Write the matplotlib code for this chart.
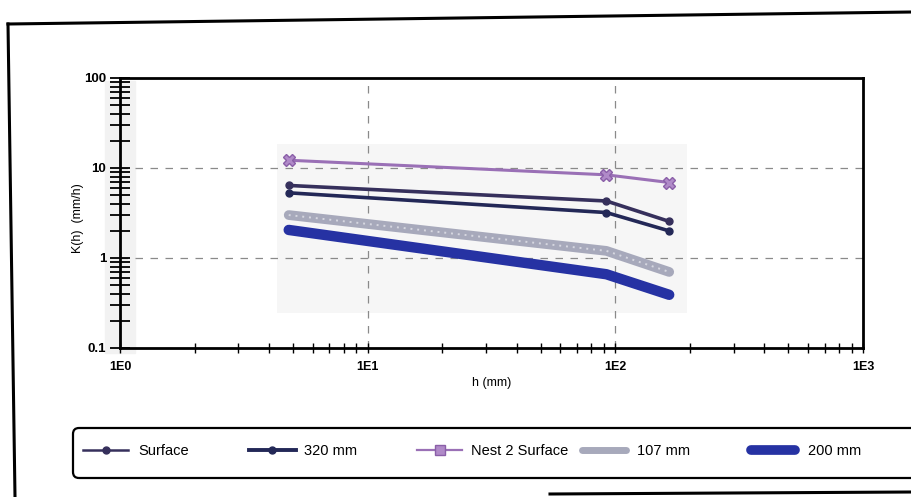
import matplotlib
matplotlib.use('Agg')
import matplotlib.pyplot as plt
import numpy as np
from matplotlib.lines import Line2D
from matplotlib.patches import FancyBboxPatch, Rectangle
from matplotlib.ticker import LogLocator, FixedLocator, NullFormatter

plt.rcParams['font.family'] = ['Liberation Sans', 'DejaVu Sans']

# ---- data ----
h_mm = [4.8, 92, 165]
k_surface = [6.4, 4.3, 2.55]
k_320 = [5.3, 3.2, 2.0]
k_nest2 = [12.2, 8.4, 6.9]
k_107 = [3.0, 1.2, 0.70]
k_200 = [2.05, 0.66, 0.39]

series_labels = ['Surface', '320 mm', 'Nest 2 Surface', '107 mm', '200 mm']
x_ticks = [1, 10, 100, 1000]
x_ticklabels = ['1E0', '1E1', '1E2', '1E3']
y_ticks = [0.1, 1, 10, 100]
y_ticklabels = ['0.1', '1', '10', '100']

W, H = 912, 497
fig = plt.figure(figsize=(W / 100, H / 100), dpi=100)
ax = fig.add_axes([120 / W, 1 - 348 / H, 743 / W, 270 / H])
ax.set_xscale('log')
ax.set_yscale('log')
ax.set_xlim(1, 1000)
ax.set_ylim(0.1, 100)
ax.set_facecolor('none')

# light strip behind the y axis (scan look)
fig.add_artist(Rectangle((105 / W, 1 - 353 / H), 30 / W, 272 / H,
                         transform=fig.transFigure, color='#f2f2f2', zorder=0))

# faint shaded panel behind the data
xs = np.array(h_mm)
allk = np.concatenate([k_surface, k_320, k_nest2, k_107, k_200])
x0, x1 = xs.min() / 1.12, xs.max() * 1.18
y0, y1 = allk.min() / 1.6, allk.max() * 1.5
ax.add_patch(Rectangle((x0, y0), x1 - x0, y1 - y0, color='#f6f6f6', zorder=0.5, lw=0))

# grid
ax.grid(True, which='major', linestyle=(0, (6, 6)), color='#8a8a8a', lw=0.9, zorder=1)

# series
ax.plot(h_mm, k_nest2, color='#9a70b6', lw=2.2, marker='X', ms=8, mec='#8a5fa8',
        mfc='#b08ac8', zorder=3)
ax.plot(h_mm, k_surface, color='#36305c', lw=2.6, marker='o', ms=5, zorder=3,
        solid_capstyle='round')
ax.plot(h_mm, k_320, color='#232857', lw=2.6, marker='o', ms=5, zorder=3,
        solid_capstyle='round')
ax.plot(h_mm, k_107, color='#a7a9bb', lw=7, solid_capstyle='round', zorder=3)
ax.plot(h_mm, k_107, color='#d6d7e0', lw=1.4, linestyle=(0, (1, 2.5)), zorder=3.1)
ax.plot(h_mm, k_200, color='#2632a3', lw=7.5, solid_capstyle='round', zorder=3)

# axes styling
for side in ['left', 'bottom', 'top', 'right']:
    ax.spines[side].set_linewidth(2)
    ax.spines[side].set_color('black')

ax.xaxis.set_major_locator(FixedLocator(x_ticks))
ax.set_xticklabels(x_ticklabels, fontsize=9, fontweight='bold')
ax.xaxis.set_minor_locator(LogLocator(base=10, subs=np.arange(2, 10)))
ax.xaxis.set_minor_formatter(NullFormatter())
ax.yaxis.set_major_locator(FixedLocator(y_ticks))
ax.set_yticklabels(y_ticklabels, fontsize=9.5, fontweight='bold')
ax.yaxis.set_minor_locator(LogLocator(base=10, subs=np.arange(2, 10)))
ax.yaxis.set_minor_formatter(NullFormatter())

ax.tick_params(axis='y', which='both', direction='inout', length=14, width=1.3, pad=3)
ax.tick_params(axis='x', which='both', direction='inout', length=7, width=1.0, pad=6)

ax.set_xlabel('h (mm)', fontsize=9, labelpad=3)
ax.set_ylabel('K(h)  (mm/h)', fontsize=9)
ax.yaxis.set_label_coords((84 - 120) / 743, 0.48)

# ---- legend (manual placement of each entry) ----
handles = [
    Line2D([], [], color='#36305c', lw=1.8, marker='o', ms=5),
    Line2D([], [], color='#232857', lw=2.8, marker='o', ms=5),
    Line2D([], [], color='#9a70b6', lw=1.6, marker='s', ms=7, mfc='#b08ac8', mec='#8a5fa8'),
    Line2D([], [], color='#a7a9bb', lw=5, solid_capstyle='round'),
    Line2D([], [], color='#2632a3', lw=7, solid_capstyle='round'),
]
entry_x = [83, 249, 417, 582, 751]
hlen = [3.1, 3.2, 3.1, 3.0, 3.0]
hpad = [0.7, 0.55, 0.6, 0.75, 0.9]
for hnd, lab, ex, hl, hp in zip(handles, series_labels, entry_x, hlen, hpad):
    fig.legend(handles=[hnd], labels=[lab], loc='center left',
               bbox_to_anchor=(ex / W, 1 - 451 / H), frameon=False,
               borderpad=0, borderaxespad=0, handlelength=hl, handletextpad=hp,
               fontsize=10.5)

# legend frame (rounded, running off the right edge)
fig.add_artist(FancyBboxPatch((0.73, (H - 478) / 100), 8.8, 0.50,
                              boxstyle='round,pad=0,rounding_size=0.06',
                              transform=fig.dpi_scale_trans, fill=False,
                              ec='black', lw=1.6))

# outer page frame lines (scan)
fig.add_artist(Line2D([8 / W, 15 / W], [1 - 24 / H, 0], transform=fig.transFigure,
                      color='black', lw=2.2))
fig.add_artist(Line2D([8 / W, 1], [1 - 24 / H, 1 - 12 / H], transform=fig.transFigure,
                      color='black', lw=2.2))
fig.add_artist(Line2D([550 / W, 1], [1 - 494 / H, 1 - 492 / H], transform=fig.transFigure,
                      color='black', lw=2.2))

fig.savefig('out.png', dpi=100)
